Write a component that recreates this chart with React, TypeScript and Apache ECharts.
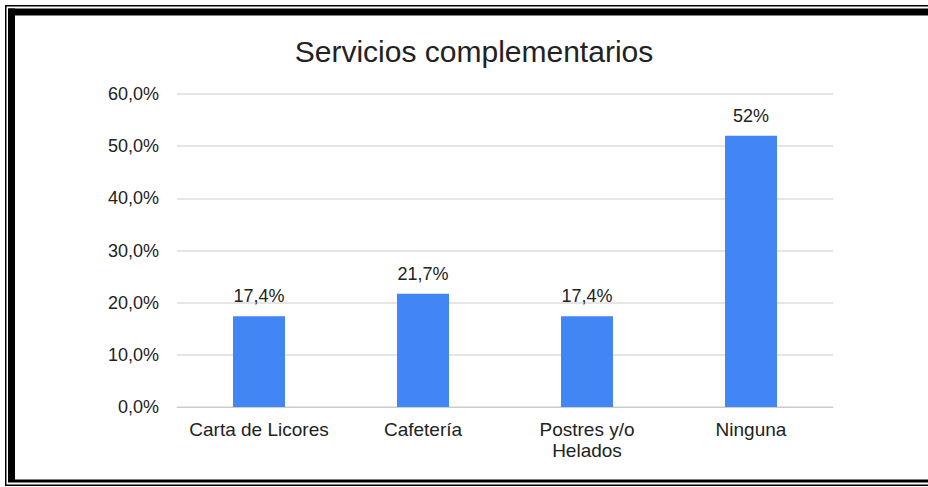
import React, { useEffect, useRef } from "react";
import * as echarts from "echarts";

const categories = ["Carta de Licores", "Cafetería", "Postres y/o\nHelados", "Ninguna"];
const values = [17.4, 21.7, 17.4, 52];
const valueLabels = ["17,4%", "21,7%", "17,4%", "52%"];
const titleText = "Servicios complementarios";
const yTicks = { min: 0, max: 60, interval: 10 };

const FONT = '"Liberation Sans", Arial, sans-serif';
const TEXT = "#222222";

export default function App() {
  const ref = useRef<HTMLDivElement>(null);
  useEffect(() => {
    if (!ref.current) return;
    const chart = echarts.init(ref.current, undefined, { renderer: "svg" });
    chart.setOption({
      animation: false,
      backgroundColor: "#ffffff",
      grid: { left: 177, right: 95, top: 94, bottom: 80, containLabel: false },
      xAxis: {
        type: "category",
        data: categories,
        axisLine: { show: true, lineStyle: { color: "#cccccc", width: 1 } },
        axisTick: { show: false },
        axisLabel: {
          color: TEXT,
          fontFamily: FONT,
          fontSize: 19,
          lineHeight: 21,
          margin: 12,
          interval: 0,
        },
      },
      yAxis: {
        type: "value",
        min: yTicks.min,
        max: yTicks.max,
        interval: yTicks.interval,
        axisLine: { show: false },
        axisTick: { show: false },
        splitLine: { lineStyle: { color: "#dddddd", width: 1.5 } },
        axisLabel: {
          color: TEXT,
          fontFamily: FONT,
          fontSize: 18,
          margin: 18,
          formatter: (v: number) => v.toFixed(1).replace(".", ",") + "%",
        },
      },
      series: [
        {
          type: "bar",
          data: values,
          barWidth: 52,
          itemStyle: { color: "#4285F4" },
          label: {
            show: true,
            position: "top",
            distance: 11,
            color: TEXT,
            fontFamily: FONT,
            fontSize: 18,
            formatter: (p: any) => valueLabels[p.dataIndex],
          },
        },
      ],
      graphic: [
        {
          type: "text",
          x: 474,
          y: 51,
          style: {
            text: titleText,
            fontFamily: FONT,
            fontSize: 30,
            fill: TEXT,
            textAlign: "center",
            textVerticalAlign: "middle",
          },
        },
        { type: "rect", shape: { x: 5, y: 5, width: 923, height: 1.5 }, style: { fill: "#000" } },
        { type: "rect", shape: { x: 5, y: 5, width: 1.5, height: 481 }, style: { fill: "#000" } },
        { type: "rect", shape: { x: 5, y: 484.5, width: 923, height: 1.5 }, style: { fill: "#000" } },
        { type: "rect", shape: { x: 8, y: 8.5, width: 920, height: 7 }, style: { fill: "#000" } },
        { type: "rect", shape: { x: 8, y: 8.5, width: 7, height: 473 }, style: { fill: "#000" } },
        { type: "rect", shape: { x: 8, y: 479.5, width: 920, height: 3 }, style: { fill: "#000" } },
      ],
    });
    return () => chart.dispose();
  }, []);
  return (
    <div
      ref={ref}
      style={{ position: "absolute", left: 0, top: 0, width: 928, height: 487 }}
    />
  );
}
